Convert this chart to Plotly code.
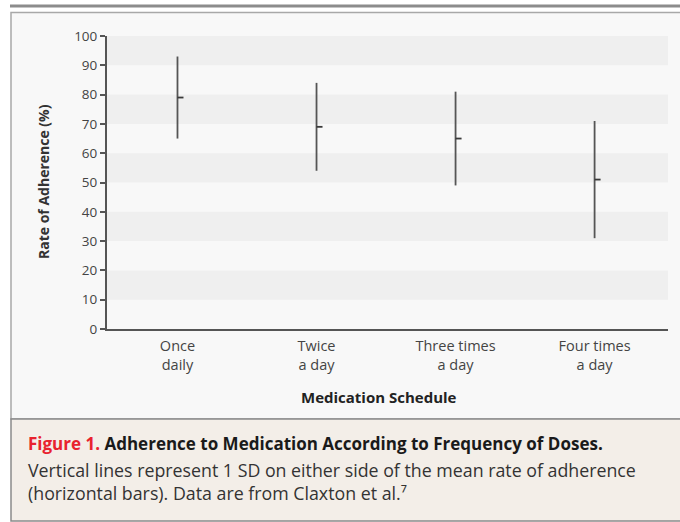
import plotly.graph_objects as go

# ---- data ----
categories = ["Once<br>daily", "Twice<br>a day", "Three times<br>a day", "Four times<br>a day"]
mean_adherence = [79, 69, 65, 51]
sd_adherence = [14, 15, 16, 20]
y_ticks = [0, 10, 20, 30, 40, 50, 60, 70, 80, 90, 100]

W, H = 680, 522
ML, MR, MT, MB = 107, 12, 36, 193
PW, PH = W - ML - MR, H - MT - MB


def px(x):
    return (x - ML) / PW


def py(y):
    return (H - MB - y) / PH


xpos = list(range(len(categories)))
tick_len = 6 / 139.0  # short horizontal mean bar (axis units)

fig = go.Figure()
fig.add_trace(go.Scatter(
    x=xpos, y=mean_adherence, mode="markers",
    marker=dict(size=1, color="rgba(0,0,0,0)"),
    error_y=dict(type="data", array=sd_adherence, symmetric=True,
                 width=0, thickness=1.8, color="#555555"),
    error_x=dict(type="data", symmetric=False, array=[tick_len] * len(xpos),
                 arrayminus=[0] * len(xpos), width=0, thickness=1.8, color="#3a3a3a"),
    hoverinfo="skip", showlegend=False,
))

shapes = []
# outer decorations
shapes.append(dict(type="rect", xref="paper", yref="paper",
                   x0=px(10), x1=px(681), y0=py(4.5), y1=py(7.5),
                   fillcolor="#8c8c8c", line=dict(width=0), layer="below"))
shapes.append(dict(type="rect", xref="paper", yref="paper",
                   x0=px(11), x1=px(682), y0=py(12.5), y1=py(419),
                   fillcolor="#f8f8f8", line=dict(color="#a8a8a8", width=1.5), layer="below"))
shapes.append(dict(type="rect", xref="paper", yref="paper",
                   x0=px(11), x1=px(682), y0=py(419), y1=py(521),
                   fillcolor="#f3eee8", line=dict(color="#8a8a8a", width=1.5), layer="below"))
# stripes
for lo in y_ticks[1:-1:2]:
    shapes.append(dict(type="rect", xref="paper", yref="y",
                       x0=0, x1=1, y0=lo, y1=lo + 10,
                       fillcolor="#efefef", line=dict(width=0), layer="below"))

FONT = "Open Sans"
annotations = [
    dict(text="<b>Medication Schedule</b>", xref="paper", yref="paper",
         x=px(379), y=py(397), showarrow=False, xanchor="center", yanchor="middle",
         font=dict(family=FONT, size=15, color="#222222")),
    dict(text="<b>Rate of Adherence (%)</b>", xref="paper", yref="paper",
         x=px(43), y=py(182), showarrow=False, textangle=-90,
         xanchor="center", yanchor="middle",
         font=dict(family=FONT, size=14, color="#333333")),
    dict(text="<b><span style='color:#e8222e'>Figure 1.</span> Adherence to Medication According to Frequency of Doses.</b>",
         xref="paper", yref="paper", x=px(26), y=py(443), showarrow=False,
         xanchor="left", yanchor="middle",
         font=dict(family=FONT, size=17, color="#1a1a1a")),
    dict(text="Vertical lines represent 1 SD on either side of the mean rate of adherence",
         xref="paper", yref="paper", x=px(26), y=py(470), showarrow=False,
         xanchor="left", yanchor="middle",
         font=dict(family=FONT, size=17.8, color="#333333")),
    dict(text="(horizontal bars). Data are from Claxton et al.\u2077",
         xref="paper", yref="paper", x=px(26), y=py(493), showarrow=False,
         xanchor="left", yanchor="middle",
         font=dict(family=FONT, size=17.8, color="#333333")),
]

fig.update_layout(
    width=W, height=H,
    margin=dict(l=ML, r=MR, t=MT, b=MB),
    paper_bgcolor="white", plot_bgcolor="rgba(0,0,0,0)",
    shapes=shapes, annotations=annotations,
    xaxis=dict(range=[-0.507, 3.528], tickvals=xpos, ticktext=categories,
               showline=True, linecolor="#555555", linewidth=2,
               ticks="", showgrid=False, zeroline=False, fixedrange=True,
               ticklabelstandoff=3,
               tickfont=dict(family=FONT, size=14.5, color="#444444")),
    yaxis=dict(range=[0, 100], tickvals=y_ticks, ticktext=[str(v) for v in y_ticks],
               showline=True, linecolor="#555555", linewidth=2,
               ticks="outside", ticklen=5, tickwidth=1.5, tickcolor="#555555",
               showgrid=False, zeroline=False, fixedrange=True,
               tickfont=dict(family=FONT, size=13.5, color="#444444")),
)

fig.write_html("out.html", config={"displayModeBar": False},
               post_script="document.body.style.margin='0';document.body.style.padding='0';")
